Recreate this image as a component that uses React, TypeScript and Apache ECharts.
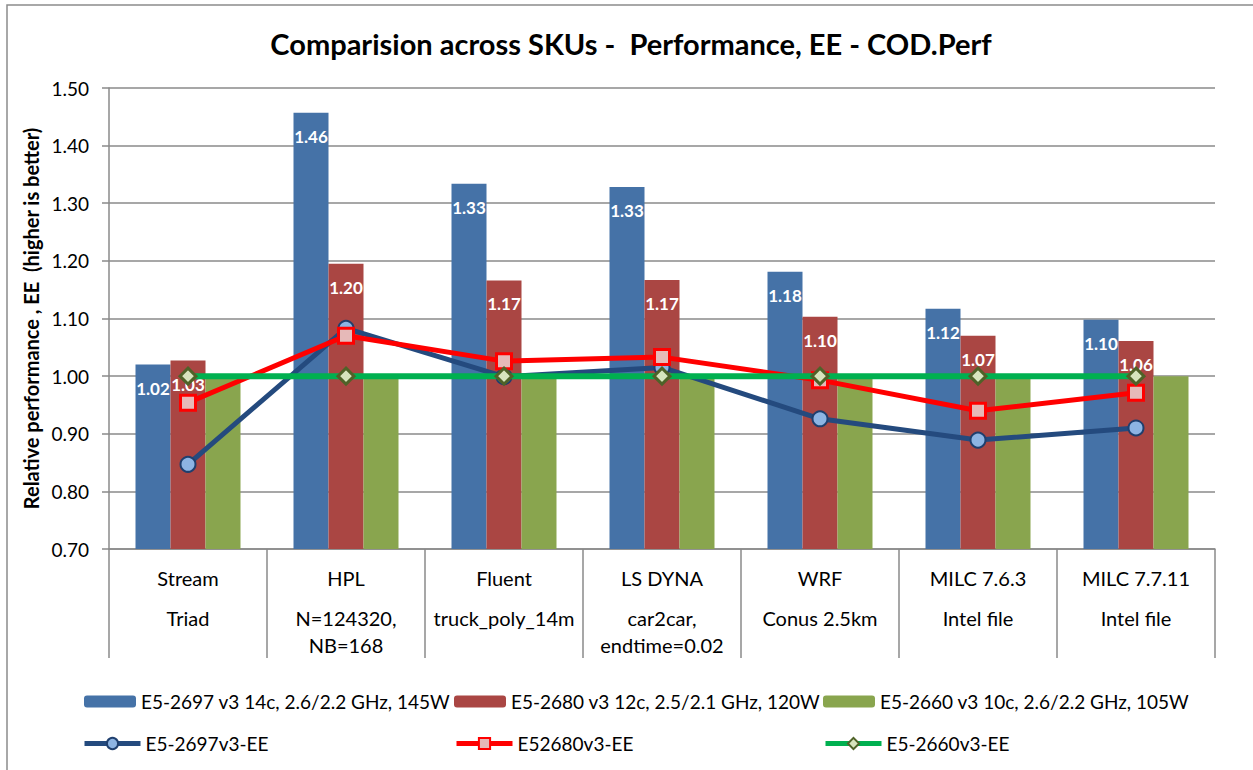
import React, { useEffect, useRef } from "react";
import * as echarts from "echarts";

const categories = ["Stream", "HPL", "Fluent", "LS DYNA", "WRF", "MILC 7.6.3", "MILC 7.7.11"];
const subLabels = ["Triad", "N=124320,\nNB=168", "truck_poly_14m", "car2car,\nendtime=0.02", "Conus 2.5km", "Intel file", "Intel file"];

const perf2697 = [1.02, 1.457, 1.334, 1.328, 1.181, 1.117, 1.098];
const perf2680 = [1.027, 1.195, 1.166, 1.167, 1.103, 1.07, 1.061];
const perf2660 = [1.0, 1.0, 1.0, 1.0, 1.0, 1.0, 1.0];
const ee2697 = [0.847, 1.083, 0.999, 1.015, 0.926, 0.889, 0.91];
const ee2680 = [0.954, 1.07, 1.026, 1.033, 0.993, 0.94, 0.971];
const ee2660 = [1.0, 1.0, 1.0, 1.0, 1.0, 1.0, 1.0];

const yTicks = { min: 0.7, max: 1.5, interval: 0.1 };

const names = [
  "E5-2697 v3 14c, 2.6/2.2 GHz, 145W",
  "E5-2680 v3 12c, 2.5/2.1 GHz, 120W",
  "E5-2660 v3 10c, 2.6/2.2 GHz, 105W",
  "E5-2697v3-EE",
  "E52680v3-EE",
  "E5-2660v3-EE",
];

const FONT = "Lato";

export default function App() {
  const ref = useRef<HTMLDivElement>(null);
  useEffect(() => {
    if (!ref.current) return;
    const chart = echarts.init(ref.current, undefined, { renderer: "svg" });
    const barLabel = {
      show: true,
      position: "insideTop",
      distance: 15,
      color: "#fff",
      fontWeight: "bold",
      fontSize: 17,
      fontFamily: FONT,
      formatter: (p: any) => Number(p.value).toFixed(2),
    };
    const legendBase = {
      padding: 0,
      itemGap: 0,
      textStyle: { fontSize: 19, color: "#000", fontFamily: FONT },
      selectedMode: false,
    };
    const lineLegend = (name: string, left: number, color: string) => ({
      ...legendBase,
      data: [name],
      left,
      top: 734,
      itemWidth: 56,
      itemHeight: 14,
      lineStyle: { width: 5, color },
    });
    const option: any = {
      animation: false,
      backgroundColor: "#fff",
      textStyle: { fontFamily: FONT },
      title: {
        text: "Comparision across SKUs -  Performance, EE - COD.Perf",
        left: 626,
        textAlign: "center",
        top: 24,
        textStyle: { fontSize: 29, fontWeight: "bold", color: "#000", fontFamily: FONT },
      },
      graphic: [
        {
          type: "rect",
          silent: true,
          z: -10,
          shape: { x: 7, y: 5, width: 1300, height: 820 },
          style: { fill: "none", stroke: "#8c8c8c", lineWidth: 1.5 },
        },
      ],
      grid: { left: 109, right: 38, top: 88, bottom: 221 },
      legend: [
        { ...legendBase, data: [names[0]], left: 84, top: 692, itemWidth: 52, itemHeight: 12 },
        { ...legendBase, data: [names[1]], left: 454, top: 692, itemWidth: 52, itemHeight: 12 },
        { ...legendBase, data: [names[2]], left: 823, top: 692, itemWidth: 52, itemHeight: 12 },
        lineLegend(names[3], 82, "#244a7e"),
        lineLegend(names[4], 454, "#ff0000"),
        lineLegend(names[5], 823, "#00b050"),
      ],
      xAxis: {
        type: "category",
        data: categories,
        boundaryGap: true,
        axisLine: { lineStyle: { color: "#8a8a8a", width: 1.5 } },
        axisTick: { show: true, alignWithLabel: false, length: 109, interval: 0, lineStyle: { color: "#8a8a8a", width: 1.5 } },
        axisLabel: {
          interval: 0,
          margin: 3,
          color: "#000",
          formatter: (v: string, i: number) => {
            const subs = subLabels[i].split("\n").map((s) => `{b|${s}}`).join("\n");
            return `{a|${v}}\n${subs}`;
          },
          rich: {
            a: { fontSize: 20, lineHeight: 52, color: "#000", fontFamily: FONT },
            b: { fontSize: 20, lineHeight: 27, color: "#000", fontFamily: FONT },
          },
        },
      },
      yAxis: {
        type: "value",
        min: yTicks.min,
        max: yTicks.max,
        interval: yTicks.interval,
        name: "Relative performance , EE  (higher is better)",
        nameLocation: "middle",
        nameRotate: 90,
        nameGap: 67,
        nameTextStyle: { fontSize: 20, fontWeight: "bold", color: "#000", fontFamily: FONT },
        axisLine: { show: true, lineStyle: { color: "#8a8a8a", width: 1.5 } },
        axisTick: { show: true, length: 7, lineStyle: { color: "#8a8a8a", width: 1.5 } },
        axisLabel: {
          margin: 20,
          fontSize: 19,
          color: "#000",
          fontFamily: FONT,
          formatter: (v: number) => v.toFixed(2),
        },
        splitLine: { lineStyle: { color: "#8a8a8a", width: 1.5 } },
      },
      series: [
        {
          name: names[0],
          type: "bar",
          data: perf2697,
          barWidth: 35,
          barGap: "0%",
          itemStyle: { color: "#4572a7" },
          label: barLabel,
        },
        {
          name: names[1],
          type: "bar",
          data: perf2680,
          barWidth: 35,
          barGap: "0%",
          itemStyle: { color: "#aa4643" },
          label: barLabel,
        },
        {
          name: names[2],
          type: "bar",
          data: perf2660,
          barWidth: 35,
          barGap: "0%",
          itemStyle: { color: "#89a54e" },
        },
        {
          name: names[3],
          type: "line",
          data: ee2697,
          symbol: "circle",
          symbolSize: 15,
          z: 3,
          lineStyle: { color: "#244a7e", width: 5 },
          itemStyle: { color: "#8db4e3", borderColor: "#1f3f6e", borderWidth: 2 },
        },
        {
          name: names[4],
          type: "line",
          data: ee2680,
          symbol: "rect",
          symbolSize: 15,
          z: 4,
          lineStyle: { color: "#ff0000", width: 5 },
          itemStyle: { color: "#e6b9b8", borderColor: "#ff0000", borderWidth: 3 },
        },
        {
          name: names[5],
          type: "line",
          data: ee2660,
          symbol: "diamond",
          symbolSize: 16,
          z: 5,
          lineStyle: { color: "#00b050", width: 6 },
          itemStyle: { color: "#d7e4bd", borderColor: "#4f6228", borderWidth: 3 },
        },
      ],
    };
    chart.setOption(option);
    return () => chart.dispose();
  }, []);
  return (
    <div
      ref={ref}
      style={{ position: "absolute", left: 0, top: 0, width: 1253, height: 770, background: "#fff" }}
    />
  );
}
